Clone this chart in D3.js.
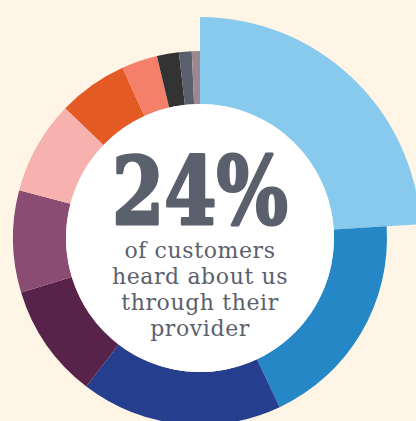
<!DOCTYPE html>
<html>
<head>
<meta charset="utf-8">
<script src="https://cdn.jsdelivr.net/npm/d3@7"></script>
<style>
  html, body { margin: 0; padding: 0; background: #fef5e6; }
  svg { display: block; }
</style>
</head>
<body>
<svg id="chart" width="416" height="421"></svg>
<script>
// How customers heard about us (share of respondents, %)
const sources = ["Provider", "Source B", "Source C", "Source D", "Source E", "Source F",
                 "Source G", "Source H", "Source I", "Source J", "Source K"];
const shares = [24, 19, 17.4, 9.9, 8.8, 8.1, 6, 3.1, 1.9, 1.1, 0.7];
const colors = ["#87caee", "#2587c6", "#253f8e", "#57234a", "#8a4c73", "#f7b1ae",
                "#e35a24", "#f4806a", "#333333", "#5a5f6d", "#9c8890"];
const headline = "24%";
const caption = ["of customers", "heard about us", "through their", "provider"];

const width = 416, height = 421;
const cx = 200, cy = 238;
const innerR = 134, outerR = 187, highlightR = 221;

const svg = d3.select("#chart");
const g = svg.append("g").attr("transform", `translate(${cx},${cy})`);

const pie = d3.pie().sort(null).value(d => d.value);
const data = sources.map((s, i) => ({ name: s, value: shares[i], color: colors[i] }));
const arcs = pie(data);

const arcNormal = d3.arc().innerRadius(innerR).outerRadius(outerR);
const arcHighlight = d3.arc().innerRadius(innerR).outerRadius(highlightR);

// the highlighted (first) slice sticks out beyond the ring
g.selectAll("path.slice")
  .data(arcs)
  .join("path")
  .attr("class", "slice")
  .attr("d", (d, i) => (i === 0 ? arcHighlight(d) : arcNormal(d)))
  .attr("fill", d => d.data.color);

// white centre disc
g.append("circle").attr("r", innerR).attr("fill", "#ffffff");

const textColor = "#5b606d";
g.append("text")
  .attr("x", 0)
  .attr("y", -14.5)
  .attr("text-anchor", "middle")
  .attr("font-family", "'DejaVu Serif', serif")
  .attr("font-weight", "bold")
  .attr("font-size", 93)
  .attr("textLength", 176)
  .attr("lengthAdjust", "spacingAndGlyphs")
  .attr("fill", textColor)
  .attr("stroke", textColor)
  .attr("stroke-width", 3)
  .attr("stroke-linejoin", "round")
  .text(headline);

g.selectAll("text.caption")
  .data(caption)
  .join("text")
  .attr("class", "caption")
  .attr("x", 0)
  .attr("y", (d, i) => 19.5 + i * 26)
  .attr("text-anchor", "middle")
  .attr("font-family", "'DejaVu Serif', serif")
  .attr("font-size", 22)
  .attr("letter-spacing", 0.6)
  .attr("fill", textColor)
  .text(d => d);
</script>
</body>
</html>
